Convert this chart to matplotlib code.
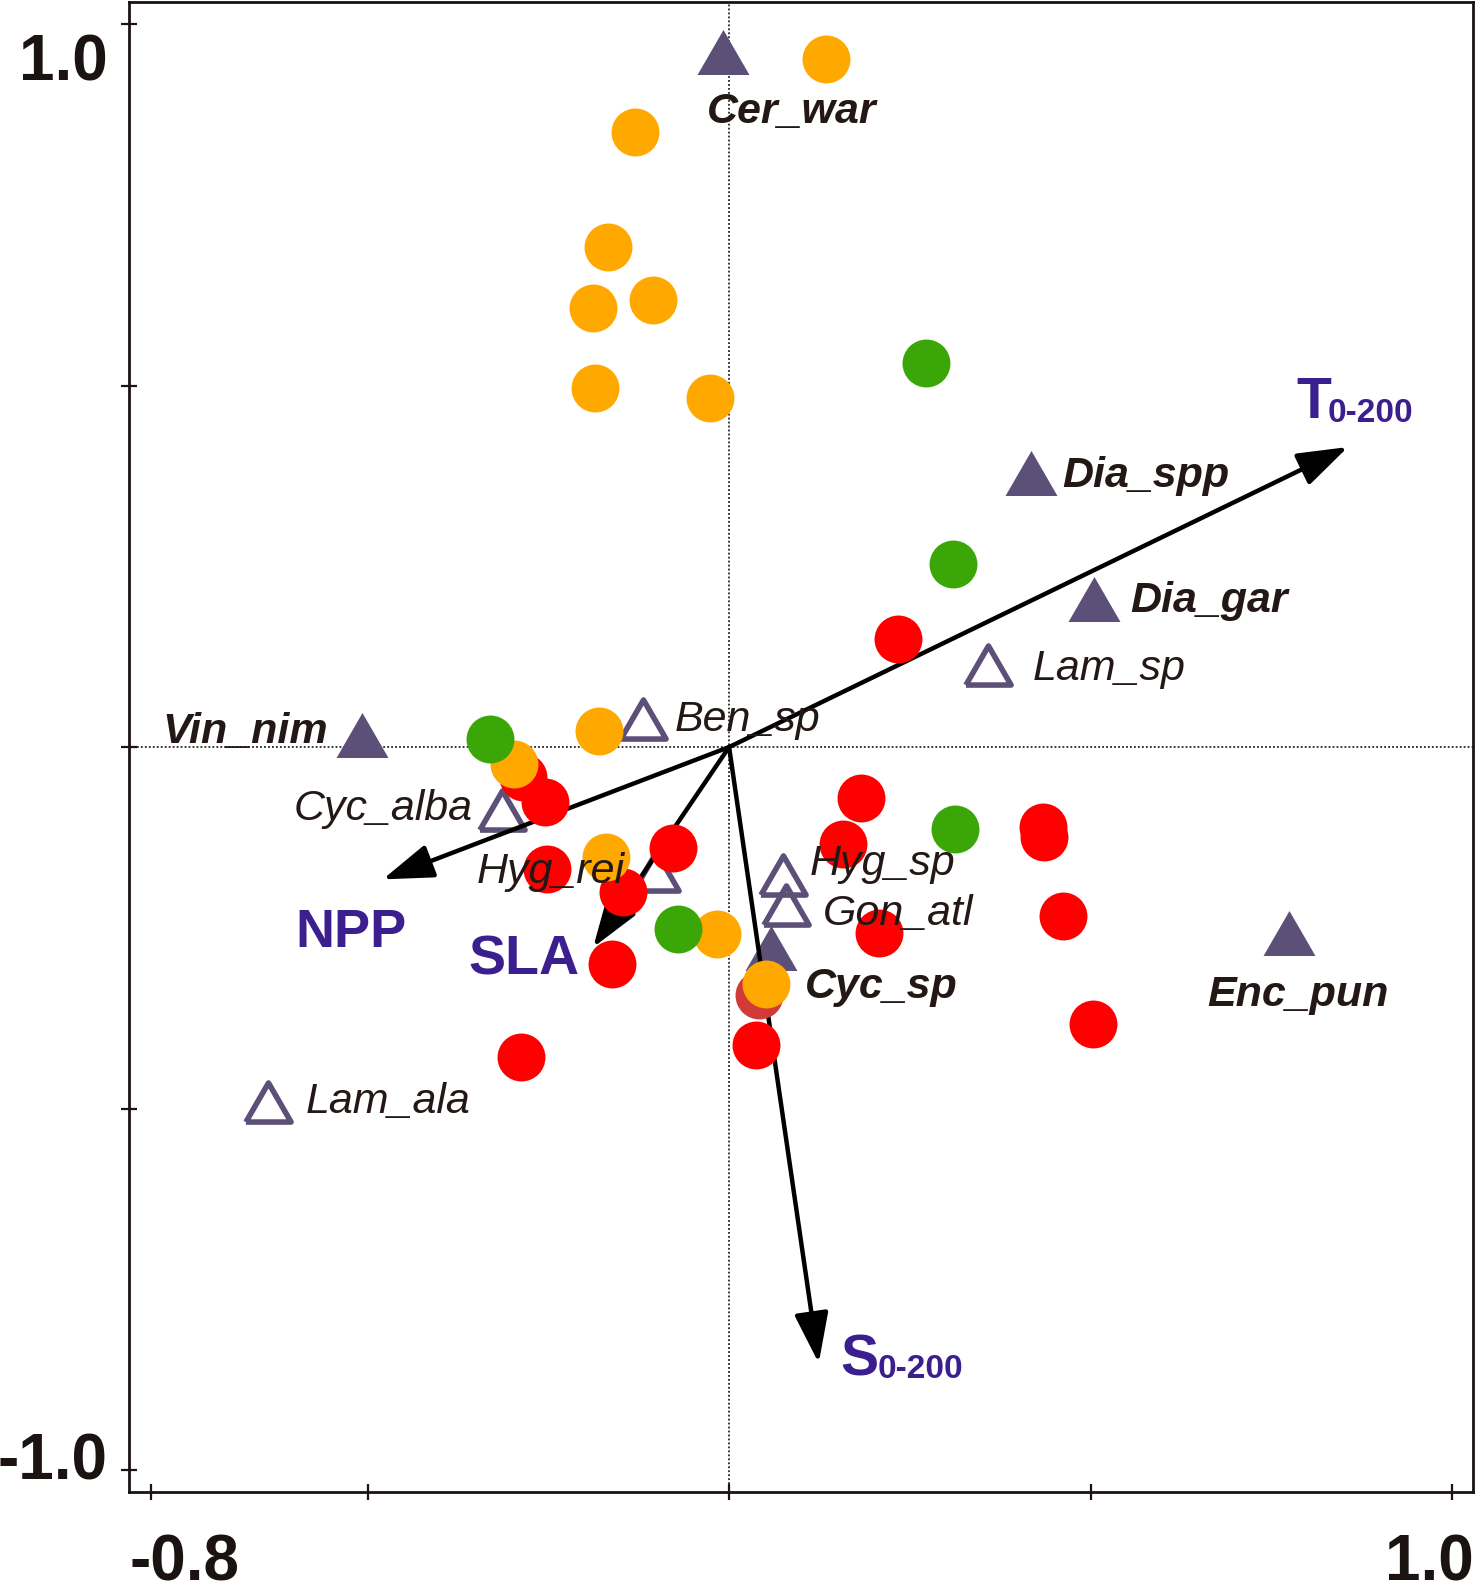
import matplotlib
matplotlib.use("Agg")
import matplotlib.pyplot as plt
from matplotlib.markers import MarkerStyle
from matplotlib.transforms import ScaledTranslation

plt.rcParams['font.family'] = ['Liberation Sans', 'DejaVu Sans']

# --- sample scores (axis 1, axis 2) ---
red_x = [-0.285, -0.254, -0.252, -0.077, -0.147, -0.162, -0.288, 0.183,
         0.158, 0.434, 0.436, 0.462, 0.503, 0.207, 0.037, 0.234]
red_y = [-0.041, -0.076, -0.169, -0.140, -0.201, -0.300, -0.429, -0.071,
         -0.134, -0.111, -0.124, -0.234, -0.383, -0.257, -0.412, 0.149]

darkred_x = [0.041]
darkred_y = [-0.343]

orange_x = [0.134, -0.130, -0.167, -0.188, -0.105, -0.185, -0.026, -0.180,
            -0.297, -0.170, -0.017, 0.051]
orange_y = [0.952, 0.851, 0.692, 0.607, 0.618, 0.497, 0.483, 0.022,
            -0.024, -0.152, -0.259, -0.328]

green_x = [0.272, 0.310, -0.331, 0.313, -0.071]
green_y = [0.531, 0.253, 0.011, -0.113, -0.252]

# --- species scores ---
# filled triangles (bold labels)
sp_fill_names = ['Cer_war', 'Dia_spp', 'Dia_gar', 'Vin_nim', 'Cyc_sp', 'Enc_pun']
sp_fill_x = [-0.008, 0.418, 0.505, -0.508, 0.058, 0.775]
sp_fill_y = [0.961, 0.379, 0.205, 0.017, -0.278, -0.257]

# open triangles (regular labels)
sp_open_names = ['Lam_sp', 'Ben_sp', 'Cyc_alba', 'Hyg_rei', 'Hyg_sp', 'Gon_atl', 'Lam_ala']
sp_open_x = [0.358, -0.119, -0.314, -0.101, 0.075, 0.079, -0.638]
sp_open_y = [0.113, 0.039, -0.087, -0.172, -0.177, -0.219, -0.491]

# --- environmental vectors ---
env_names = ['T', 'S', 'NPP', 'SLA']
env_x = [0.856, 0.124, -0.479, -0.188]
env_y = [0.415, -0.852, -0.183, -0.277]

# label placement (data coords, baseline) for species
label_pos = {
    'Cer_war': (-0.030, 0.863, 'left'),
    'Dia_spp': (0.461, 0.360, 'left'),
    'Dia_gar': (0.555, 0.187, 'left'),
    'Vin_nim': (-0.555, 0.006, 'right'),
    'Cyc_sp': (0.105, -0.347, 'left'),
    'Enc_pun': (0.661, -0.358, 'left'),
    'Lam_sp': (0.420, 0.093, 'left'),
    'Ben_sp': (-0.075, 0.022, 'left'),
    'Cyc_alba': (-0.355, -0.101, 'right'),
    'Hyg_rei': (-0.349, -0.188, 'left'),
    'Hyg_sp': (0.112, -0.177, 'left'),
    'Gon_atl': (0.130, -0.246, 'left'),
    'Lam_ala': (-0.586, -0.506, 'left'),
}

RED = '#ff0000'
DARKRED = '#d13a36'
ORANGE = '#ffa800'
GREEN = '#3aa608'
TRI = '#5c5078'
TXT = '#231815'
ENV = '#3b1f8e'

fig = plt.figure(figsize=(14.76, 15.89), dpi=100)
ax = fig.add_axes([0.0874, 0.0610, 0.9106, 0.9377])
ax.set_xlim(-0.830, 1.029)
ax.set_ylim(-1.0304, 1.0304)

# dotted zero lines
ax.axhline(0, color='black', lw=1.1, ls=(0, (1.2, 1.4)), zorder=1)
ax.axvline(0, color='black', lw=1.1, ls=(0, (1.2, 1.4)), zorder=1)

# triangles (equilateral, centred, closed path)
tri = MarkerStyle([(-1, -0.866), (1, -0.866), (0, 0.866), (-1, -0.866)],
                  joinstyle='miter')
ax.plot(sp_fill_x, sp_fill_y, ls='none', marker=tri, ms=37.4,
        mfc=TRI, mec='none', zorder=2)
ax.plot(sp_open_x, sp_open_y, ls='none', marker=tri, ms=32.5,
        mfc='none', mec=TRI, mew=4.0, zorder=2)

# arrows
for name, x, y in zip(env_names, env_x, env_y):
    ax.annotate('', xy=(x, y), xytext=(0, 0),
                arrowprops=dict(arrowstyle='-|>,head_length=31,head_width=10.5',
                                mutation_scale=1, lw=3.2, color='black',
                                shrinkA=0, shrinkB=0),
                zorder=2.5)

# samples
ms = 34.5
ax.plot(red_x, red_y, ls='none', marker='o', ms=ms, mfc=RED, mec='none', zorder=3)
ax.plot(darkred_x, darkred_y, ls='none', marker='o', ms=ms, mfc=DARKRED, mec='none', zorder=3)
ax.plot(orange_x, orange_y, ls='none', marker='o', ms=ms, mfc=ORANGE, mec='none', zorder=3)
ax.plot(green_x, green_y, ls='none', marker='o', ms=ms, mfc=GREEN, mec='none', zorder=3)

# species labels
for name in sp_fill_names:
    x, y, ha = label_pos[name]
    ax.text(x, y, name, fontsize=31, fontweight='bold', fontstyle='italic',
            color=TXT, ha=ha, va='baseline', zorder=4)
for name in sp_open_names:
    x, y, ha = label_pos[name]
    ax.text(x, y, name, fontsize=31, fontstyle='italic',
            color=TXT, ha=ha, va='baseline', zorder=4)

# environmental labels
ax.text(-0.600, -0.277, 'NPP', fontsize=39, fontweight='bold', color=ENV,
        ha='left', va='baseline', zorder=4)
ax.text(-0.361, -0.315, 'SLA', fontsize=40, fontweight='bold', color=ENV,
        ha='left', va='baseline', zorder=4)
ax.text(0.784, 0.455, 'T', fontsize=41, fontweight='bold', color=ENV,
        ha='left', va='baseline', zorder=4)
ax.text(0.8285, 0.449, '0-200', fontsize=24, fontweight='bold', color=ENV,
        ha='left', va='baseline', zorder=4)
ax.text(0.154, -0.869, 'S', fontsize=41, fontweight='bold', color=ENV,
        ha='left', va='baseline', zorder=4)
ax.text(0.206, -0.873, '0-200', fontsize=24, fontweight='bold', color=ENV,
        ha='left', va='baseline', zorder=4)

# axes frame and ticks
for sp in ax.spines.values():
    sp.set_linewidth(2.0)
    sp.set_color('#1a1311')

ax.set_xticks([-0.8, -0.5, 0, 0.5, 1.0])
ax.set_xticklabels(['-0.8', '', '', '', '1.0'])
ax.set_yticks([1.0, 0.5, 0, -0.5, -1.0])
ax.set_yticklabels(['1.0', '', '', '', '-1.0'])
ax.tick_params(axis='both', direction='inout', length=11, width=1.6,
               color='#1a1311', labelsize=46, labelcolor='#1a1311')
ax.tick_params(axis='x', pad=24)
ax.tick_params(axis='y', pad=10)
for lab in ax.get_xticklabels() + ax.get_yticklabels():
    lab.set_fontweight('bold')

# nudge the end labels the way they sit in the original
xl = ax.get_xticklabels()
yl = ax.get_yticklabels()
shifts = [(xl[0], 24.6, 0), (xl[4], -16, 0), (yl[0], 0, -23.8), (yl[4], 0, 10)]
for lab, dx, dy in shifts:
    lab.set_transform(lab.get_transform() +
                      ScaledTranslation(dx / 72, dy / 72, fig.dpi_scale_trans))

fig.savefig('out.png', dpi=100)
